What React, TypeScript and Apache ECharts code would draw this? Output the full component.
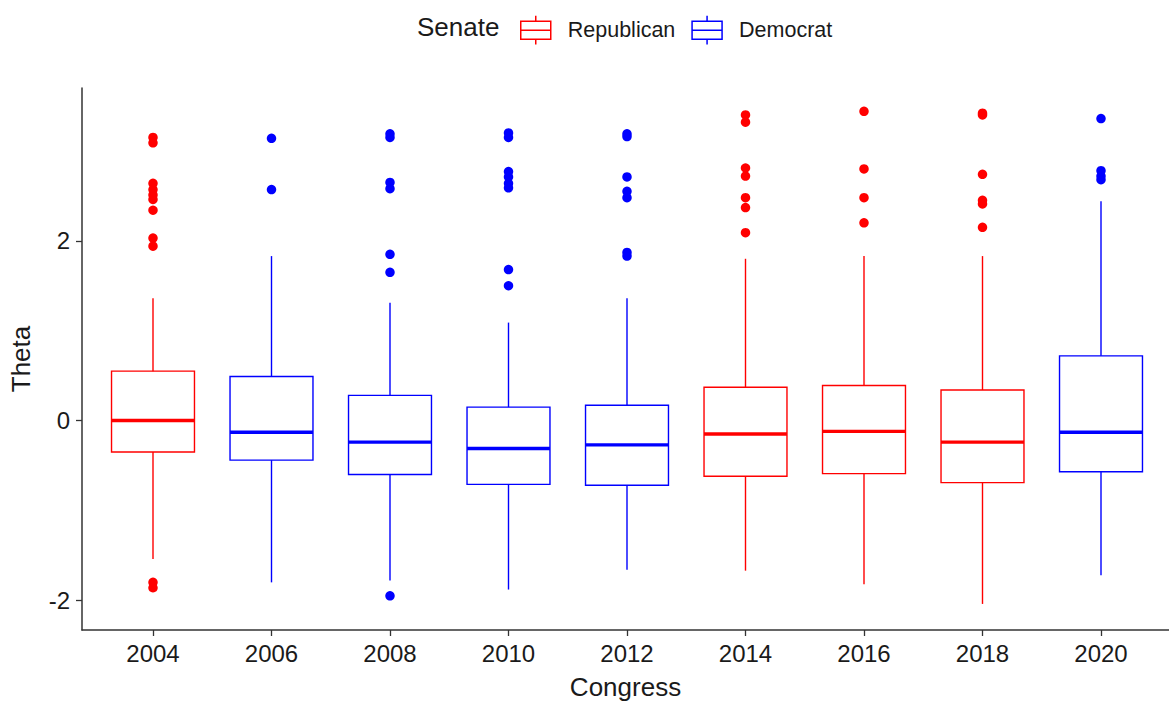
import React, { useEffect, useRef } from 'react';
import * as echarts from 'echarts';

// Congress years and which party held the Senate
const years = ['2004', '2006', '2008', '2010', '2012', '2014', '2016', '2018', '2020'];
const senateParty = ['Republican', 'Democrat', 'Democrat', 'Democrat', 'Democrat', 'Republican', 'Republican', 'Republican', 'Democrat'];

// Box statistics of Theta per Congress
const whiskerLow = [-1.54, -1.80, -1.78, -1.88, -1.66, -1.67, -1.82, -2.04, -1.72];
const quartile1 = [-0.35, -0.44, -0.60, -0.71, -0.72, -0.62, -0.59, -0.69, -0.57];
const medians = [0.0, -0.13, -0.24, -0.31, -0.27, -0.15, -0.12, -0.24, -0.13];
const quartile3 = [0.55, 0.49, 0.28, 0.15, 0.17, 0.37, 0.39, 0.34, 0.72];
const whiskerHigh = [1.36, 1.83, 1.31, 1.09, 1.36, 1.80, 1.83, 1.83, 2.44];

// Outlying Theta values per Congress
const outliers2004 = [3.15, 3.09, 2.64, 2.57, 2.51, 2.46, 2.34, 2.03, 1.94, -1.80, -1.86];
const outliers2006 = [3.14, 2.57];
const outliers2008 = [3.19, 3.15, 2.65, 2.58, 1.85, 1.65, -1.95];
const outliers2010 = [3.20, 3.15, 2.77, 2.71, 2.64, 2.59, 1.68, 1.50];
const outliers2012 = [3.19, 3.16, 2.71, 2.55, 2.48, 1.87, 1.83];
const outliers2014 = [3.40, 3.32, 2.81, 2.72, 2.48, 2.37, 2.09];
const outliers2016 = [3.44, 2.80, 2.48, 2.20];
const outliers2018 = [3.42, 3.40, 2.74, 2.45, 2.41, 2.15];
const outliers2020 = [3.36, 2.78, 2.72, 2.68];
const outlierLists = [outliers2004, outliers2006, outliers2008, outliers2010, outliers2012, outliers2014, outliers2016, outliers2018, outliers2020];

// Theta axis
const thetaMin = -2.33;
const thetaMax = 3.7;
const thetaTicks = [-2, 0, 2];

const RED = '#FF0000';
const BLUE = '#0000FF';
const FONT = "'Liberation Sans', Arial, Helvetica, sans-serif";
const INK = '#1a1a1a';

const partyColor: Record<string, string> = { Republican: RED, Democrat: BLUE };

// boxplot key: whiskers, box and median line
const boxIcon = 'path://M15,0 L15,5.4 M0,5.4 L30,5.4 L30,23.4 L0,23.4 Z M0,14.4 L30,14.4 M15,23.4 L15,28.8';

function boxRows(party: string) {
  const rows: number[][] = [];
  years.forEach((_, i) => {
    if (senateParty[i] === party) {
      rows.push([i, whiskerLow[i], quartile1[i], medians[i], quartile3[i], whiskerHigh[i]]);
    }
  });
  return rows;
}

function outlierRows(party: string) {
  const rows: number[][] = [];
  years.forEach((_, i) => {
    if (senateParty[i] === party) {
      outlierLists[i].forEach((v) => rows.push([i, v]));
    }
  });
  return rows;
}

function makeBoxRenderer(color: string) {
  return (params: any, api: any) => {
    const x = api.value(0);
    const lo = api.coord([x, api.value(1)]);
    const q1 = api.coord([x, api.value(2)]);
    const med = api.coord([x, api.value(3)]);
    const q3 = api.coord([x, api.value(4)]);
    const hi = api.coord([x, api.value(5)]);
    const bw = api.size([1, 0])[0] * 0.7;
    const cx = q1[0];
    return {
      type: 'group',
      children: [
        { type: 'line', shape: { x1: cx, y1: hi[1], x2: cx, y2: q3[1] }, style: { stroke: color, lineWidth: 1.4 } },
        { type: 'line', shape: { x1: cx, y1: q1[1], x2: cx, y2: lo[1] }, style: { stroke: color, lineWidth: 1.4 } },
        {
          type: 'rect',
          shape: { x: cx - bw / 2, y: q3[1], width: bw, height: q1[1] - q3[1] },
          style: { fill: 'none', stroke: color, lineWidth: 1.4 },
        },
        { type: 'line', shape: { x1: cx - bw / 2, y1: med[1], x2: cx + bw / 2, y2: med[1] }, style: { stroke: color, lineWidth: 3.4 } },
      ],
    };
  };
}

export default function App() {
  const ref = useRef<HTMLDivElement>(null);

  useEffect(() => {
    if (!ref.current) return;
    const chart = echarts.init(ref.current, null, { renderer: 'svg' });

    const parties = ['Republican', 'Democrat'];
    const series: any[] = [];
    parties.forEach((p) => {
      series.push({
        name: p,
        type: 'custom',
        xAxisIndex: 0,
        yAxisIndex: 0,
        itemStyle: { color: partyColor[p] },
        renderItem: makeBoxRenderer(partyColor[p]),
        encode: { x: 0, y: [1, 2, 3, 4, 5] },
        data: boxRows(p),
        z: 2,
      });
      series.push({
        name: p,
        type: 'scatter',
        xAxisIndex: 0,
        yAxisIndex: 0,
        symbol: 'circle',
        symbolSize: 9.5,
        itemStyle: { color: partyColor[p], opacity: 1 },
        data: outlierRows(p),
        z: 3,
      });
    });

    chart.setOption({
      animation: false,
      backgroundColor: '#ffffff',
      textStyle: { fontFamily: FONT },
      title: {
        text: 'Senate',
        left: 417,
        top: 14,
        padding: 0,
        textStyle: { fontFamily: FONT, fontSize: 26, fontWeight: 'normal', color: INK },
      },
      legend: {
        left: 520,
        top: 15,
        padding: 0,
        itemWidth: 30,
        itemHeight: 29,
        itemGap: 16,
        selectedMode: false,
        textStyle: { fontFamily: FONT, fontSize: 21.5, color: INK, padding: [0, 0, 0, 12] },
        data: parties.map((p) => ({
          name: p,
          icon: boxIcon,
          itemStyle: { color: 'transparent', borderColor: partyColor[p], borderWidth: 1.5 },
        })),
      },
      grid: [
        { left: 93.75, right: 8.75, top: 88, bottom: 75 },
        { left: 82, right: 0, top: 88, bottom: 75 },
      ],
      xAxis: [
        {
          type: 'category',
          gridIndex: 0,
          position: 'bottom',
          data: years,
          boundaryGap: true,
          axisLine: { show: false, onZero: false },
          axisTick: { show: true, alignWithLabel: true, length: 6, lineStyle: { color: '#333', width: 1.3 } },
          axisLabel: { fontFamily: FONT, fontSize: 24, color: INK, margin: 11 },
          splitLine: { show: false },
        },
        {
          type: 'value',
          gridIndex: 1,
          position: 'bottom',
          min: 0,
          max: 1,
          axisLine: { show: true, onZero: false, lineStyle: { color: '#333', width: 1.5 } },
          axisTick: { show: false },
          axisLabel: { show: false },
          splitLine: { show: false },
          name: 'Congress',
          nameLocation: 'middle',
          nameGap: 44,
          nameTextStyle: { fontFamily: FONT, fontSize: 26, color: INK },
        },
      ],
      yAxis: [
        {
          type: 'value',
          gridIndex: 0,
          min: thetaMin,
          max: thetaMax,
          show: false,
          axisLine: { onZero: false },
          splitLine: { show: false },
        },
        {
          type: 'value',
          gridIndex: 1,
          position: 'left',
          min: thetaMin,
          max: thetaMax,
          axisLine: { show: true, onZero: false, lineStyle: { color: '#333', width: 1.5 } },
          axisTick: { show: true, length: 6, customValues: thetaTicks, lineStyle: { color: '#333', width: 1.3 } },
          axisLabel: { fontFamily: FONT, fontSize: 24, color: INK, margin: 12, customValues: thetaTicks },
          splitLine: { show: false },
          name: 'Theta',
          nameLocation: 'middle',
          nameGap: 48,
          nameTextStyle: { fontFamily: FONT, fontSize: 26, color: INK },
        },
      ],
      series,
    });

    return () => chart.dispose();
  }, []);

  return <div ref={ref} style={{ position: 'fixed', left: 0, top: 0, width: 1169, height: 705 }} />;
}
